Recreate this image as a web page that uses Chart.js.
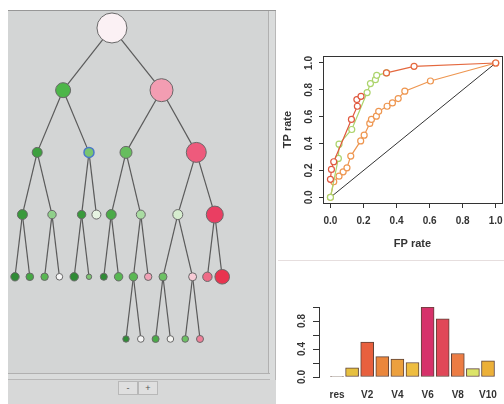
<!DOCTYPE html>
<html>
<head>
<meta charset="utf-8">
<script src="https://cdn.jsdelivr.net/npm/chart.js@4.4.0/dist/chart.umd.min.js"></script>
<style>
  body { margin: 0; width: 504px; height: 404px; position: relative; overflow: hidden; background: #fff;
         font-family: "Liberation Sans", Arial, sans-serif; }
  .abs { position: absolute; box-sizing: border-box; }
  #panel { left: 8px; top: 10px; width: 268px; height: 394px; background: #d3d5d5; border-top: 1px solid #979797; }
  #vbar { left: 268px; top: 11px; width: 8px; height: 369px; background: #dadcdc; border-left: 1px solid #b0b0b0; border-right: 1px solid #b8b8b8; }
  #hbar { left: 8px; top: 373px; width: 262px; height: 7px; background: #dadcdc; border-top: 1px solid #b0b0b0; border-bottom: 1px solid #b8b8b8; }
  #below { left: 8px; top: 380px; width: 268px; height: 24px; background: #d7d8d8; }
  .btn { top: 381px; width: 20px; height: 14px; border: 1px solid #b8b8b8; background: #dfdfdf; font-size: 9px; line-height: 12px; text-align: center; color: #555; }
  #sep { left: 278px; top: 260px; width: 226px; height: 1px; background: #e6dede; }
  canvas { position: absolute; }
</style>
</head>
<body>
<div class="abs" id="panel"></div>
<div class="abs" id="vbar"></div>
<div class="abs" id="hbar"></div>
<div class="abs" id="below"></div>
<div class="abs btn" style="left:118px">-</div>
<div class="abs btn" style="left:138px">+</div>
<div class="abs" id="sep"></div>
<canvas id="tree" width="260" height="362" style="left:8px;top:11px"></canvas>
<canvas id="roc" width="224" height="220" style="left:280px;top:40px"></canvas>
<canvas id="imp" width="224" height="142" style="left:280px;top:262px"></canvas>
<script>
// ---- tree: layout slot, depth, parent, size and colour of each node
const nodeSlot = [6.55,
  3.25, 9.9,
  1.5, 5, 7.5, 12.25,
  0.5, 2.5, 4.5, 5.5, 6.5, 8.5, 11, 13.5,
  0, 1, 2, 3, 4, 5, 6, 7, 8, 9, 10, 12, 13, 14,
  7.5, 8.5, 9.5, 10.5, 11.5, 12.5];
const nodeDepth = [0,
  1, 1,
  2, 2, 2, 2,
  3, 3, 3, 3, 3, 3, 3, 3,
  4, 4, 4, 4, 4, 4, 4, 4, 4, 4, 4, 4, 4, 4,
  5, 5, 5, 5, 5, 5];
const nodeParent = [-1,
  0, 0,
  1, 1, 2, 2,
  3, 3, 4, 4, 5, 5, 6, 6,
  7, 7, 8, 8, 9, 9, 11, 11, 12, 12, 13, 13, 14, 14,
  23, 23, 25, 25, 26, 26];
const nodeSize = [15,
  7.5, 11.5,
  5, 5, 6, 10,
  5, 4.2, 4.2, 4.5, 5, 4.5, 5, 8.5,
  4.2, 3.8, 3.7, 3.3, 4.2, 2.7, 3.5, 4.2, 4.2, 3.7, 4, 4, 4.7, 7.3,
  3.2, 3.3, 3.5, 3.3, 3.3, 3.5];
const nodeColor = ['#fbf1f4',
  '#4db649', '#f39db2',
  '#3ea03f', '#79c56e', '#67bd5e', '#ee5a7c',
  '#3a9a3c', '#8fd08a', '#3a9a3c', '#e6f4e2', '#4aaa47', '#a9dca2', '#d6edcf', '#ea3e62',
  '#2f8b35', '#46a845', '#58b752', '#f7f7f7', '#2f8b35', '#7cc472', '#2f8b35', '#58b752',
  '#5ab753', '#f0a2b6', '#6cc163', '#f7cbd6', '#ee6a86', '#e8344f',
  '#2f8b35', '#f5f5f5', '#4aaa47', '#f5f5f2', '#6cc163', '#ee8099'];
const selectedNode = 4;

// ---- ROC curves
const rocTicks = [0, 0.2, 0.4, 0.6, 0.8, 1.0];
const redFpr = [0, 0.006, 0.02, 0.127, 0.163, 0.16, 0.185];
const redTpr = [0.134, 0.208, 0.265, 0.58, 0.678, 0.728, 0.752];
const greenFpr = [0, 0.048, 0.052, 0.129, 0.222, 0.242, 0.272, 0.28, 0.339];
const greenTpr = [0, 0.29, 0.396, 0.505, 0.78, 0.847, 0.876, 0.908, 0.926];
const tailFpr = [0.339, 0.506, 1];
const tailTpr = [0.926, 0.975, 1];
const orangeFpr = [0, 0.02, 0.052, 0.077, 0.1, 0.123, 0.183, 0.204, 0.238, 0.248, 0.278, 0.292, 0.343, 0.375, 0.41, 0.45, 0.605, 1];
const orangeTpr = [0, 0.116, 0.158, 0.19, 0.22, 0.307, 0.42, 0.463, 0.55, 0.58, 0.604, 0.64, 0.678, 0.703, 0.735, 0.79, 0.866, 1];

// ---- variable importance bars
const barNames = ['res', 'V1', 'V2', 'V3', 'V4', 'V5', 'V6', 'V7', 'V8', 'V9', 'V10'];
const barValues = [0.006, 0.13, 0.5, 0.29, 0.255, 0.207, 1.0, 0.83, 0.336, 0.12, 0.23];
const barColors = ['#b0a8a0', '#e6c040', '#e8603e', '#ea863c', '#eca03e', '#eebd40', '#d6316a', '#e04858', '#ec7c44', '#dce468', '#ecb038'];
const barTicks = [0, 0.2, 0.4, 0.6, 0.8, 1.0];
const barTickLabels = ['0.0', '', '0.4', '', '0.8', ''];
const barLabelled = [0, 2, 4, 6, 8, 10];

const axisFont = { family: '"Liberation Sans", Arial, sans-serif', size: 10, weight: 'bold' };
const titleFont = { family: '"Liberation Sans", Arial, sans-serif', size: 11, weight: 'bold' };
const ink = '#333';

// keep the plot region where the reference has it, whatever the tick labels need
const fixWidth = w => s => { s.width = w; s.paddingTop = 0; s.paddingBottom = 0; };
const fixHeight = h => s => { s.height = h; s.paddingLeft = 0; s.paddingRight = 0; };

// tree
const edges = [];
nodeParent.forEach((p, i) => {
  if (p < 0) return;
  edges.push({
    data: [{ x: nodeSlot[p], y: nodeDepth[p] }, { x: nodeSlot[i], y: nodeDepth[i] }],
    showLine: true, borderColor: '#5a5a5a', borderWidth: 1.2, pointRadius: 0, clip: false
  });
});

new Chart(document.getElementById('tree'), {
  type: 'scatter',
  data: {
    datasets: [{
      data: nodeSlot.map((s, i) => ({ x: s, y: nodeDepth[i] })),
      pointRadius: nodeSize,
      pointBackgroundColor: nodeColor,
      pointBorderColor: nodeColor.map((c, i) => i === selectedNode ? '#4a78c8' : '#686868'),
      pointBorderWidth: nodeColor.map((c, i) => i === selectedNode ? 1.5 : 1),
      clip: false,
      order: 0
    }, ...edges.map(e => ({ ...e, order: 1 }))]
  },
  options: {
    responsive: false,
    animation: false,
    layout: { padding: 0, autoPadding: false },
    plugins: { legend: { display: false }, tooltip: { enabled: false } },
    scales: {
      x: { type: 'linear', display: false, min: -0.473, max: 17.095 },
      y: { type: 'linear', display: false, min: -0.273, max: 5.547, reverse: true }
    }
  }
});

// ROC
const boxPlugin = {
  id: 'box',
  afterDraw(chart) {
    const { ctx, chartArea: a } = chart;
    ctx.save();
    ctx.strokeStyle = ink;
    ctx.lineWidth = 1;
    ctx.strokeRect(Math.round(a.left) + 0.5, Math.round(a.top) + 0.5, Math.round(a.right - a.left), Math.round(a.bottom - a.top));
    ctx.restore();
  }
};

function curve(fpr, tpr, color) {
  return {
    data: fpr.map((f, i) => ({ x: f, y: tpr[i] })),
    showLine: true, borderColor: color, borderWidth: 1.2,
    pointRadius: 3, pointBorderColor: color, pointBorderWidth: 1.2, pointBackgroundColor: '#fff'
  };
}

new Chart(document.getElementById('roc'), {
  type: 'scatter',
  data: {
    datasets: [
      curve(tailFpr, tailTpr, '#e4683e'),
      curve(redFpr, redTpr, '#e0583e'),
      curve(greenFpr, greenTpr, '#acd46c'),
      curve(orangeFpr, orangeTpr, '#ee9650'),
      { data: [{ x: 0, y: 0 }, { x: 1, y: 1 }], showLine: true, borderColor: '#333', borderWidth: 1, pointRadius: 0 }
    ]
  },
  options: {
    responsive: false,
    animation: false,
    layout: { padding: { left: 0, right: 2, top: 16, bottom: 0 }, autoPadding: false },
    plugins: { legend: { display: false }, tooltip: { enabled: false } },
    scales: {
      x: {
        type: 'linear', min: -0.045, max: 1.038,
        afterBuildTicks: s => { s.ticks = rocTicks.map(v => ({ value: v })); },
        afterFit: fixHeight(57),
        grid: { drawOnChartArea: false, tickLength: 5, color: ink },
        border: { color: ink },
        ticks: { padding: 7, color: ink, font: axisFont, maxRotation: 0, autoSkip: false, callback: v => v.toFixed(1) },
        title: { display: true, text: 'FP rate', color: ink, font: titleFont, padding: { top: 0, bottom: 9 } }
      },
      y: {
        type: 'linear', min: -0.042, max: 1.052,
        afterBuildTicks: s => { s.ticks = rocTicks.map(v => ({ value: v })); },
        afterFit: fixWidth(43),
        grid: { drawOnChartArea: false, tickLength: 4, color: ink },
        border: { color: ink },
        ticks: { padding: 3, color: ink, font: axisFont, minRotation: 90, maxRotation: 90, crossAlign: 'center', autoSkip: false, callback: v => v.toFixed(1) },
        title: { display: true, text: 'TP rate', color: ink, font: titleFont, padding: { top: 1.5, bottom: 0 } }
      }
    }
  },
  plugins: [boxPlugin]
});

// importance bars
new Chart(document.getElementById('imp'), {
  type: 'bar',
  data: {
    datasets: [{
      data: barValues.map((v, i) => ({ x: i, y: v })),
      backgroundColor: barColors,
      borderColor: '#5e4238',
      borderWidth: 1,
      borderSkipped: false,
      barThickness: 13
    }]
  },
  options: {
    responsive: false,
    animation: false,
    layout: { padding: { left: 0, right: 0, top: 45, bottom: 0 }, autoPadding: false },
    plugins: { legend: { display: false }, tooltip: { enabled: false } },
    scales: {
      x: {
        type: 'linear', min: -1.192, max: 11.06, offset: false,
        afterBuildTicks: s => { s.ticks = barLabelled.map(v => ({ value: v })); },
        afterFit: fixHeight(27),
        grid: { display: false, drawTicks: false, offset: false },
        border: { display: false },
        ticks: { padding: 12, color: ink, font: axisFont, maxRotation: 0, autoSkip: false, callback: v => barNames[v] }
      },
      y: {
        type: 'linear', min: 0, max: 1,
        afterBuildTicks: s => { s.ticks = barTicks.map(v => ({ value: v })); },
        afterFit: fixWidth(39),
        grid: { drawOnChartArea: false, tickLength: 6, color: ink },
        border: { color: ink },
        ticks: { padding: 4, color: ink, font: axisFont, minRotation: 90, maxRotation: 90, crossAlign: 'center', autoSkip: false,
                 callback: (v, i) => barTickLabels[i] }
      }
    }
  }
});
</script>
</body>
</html>
